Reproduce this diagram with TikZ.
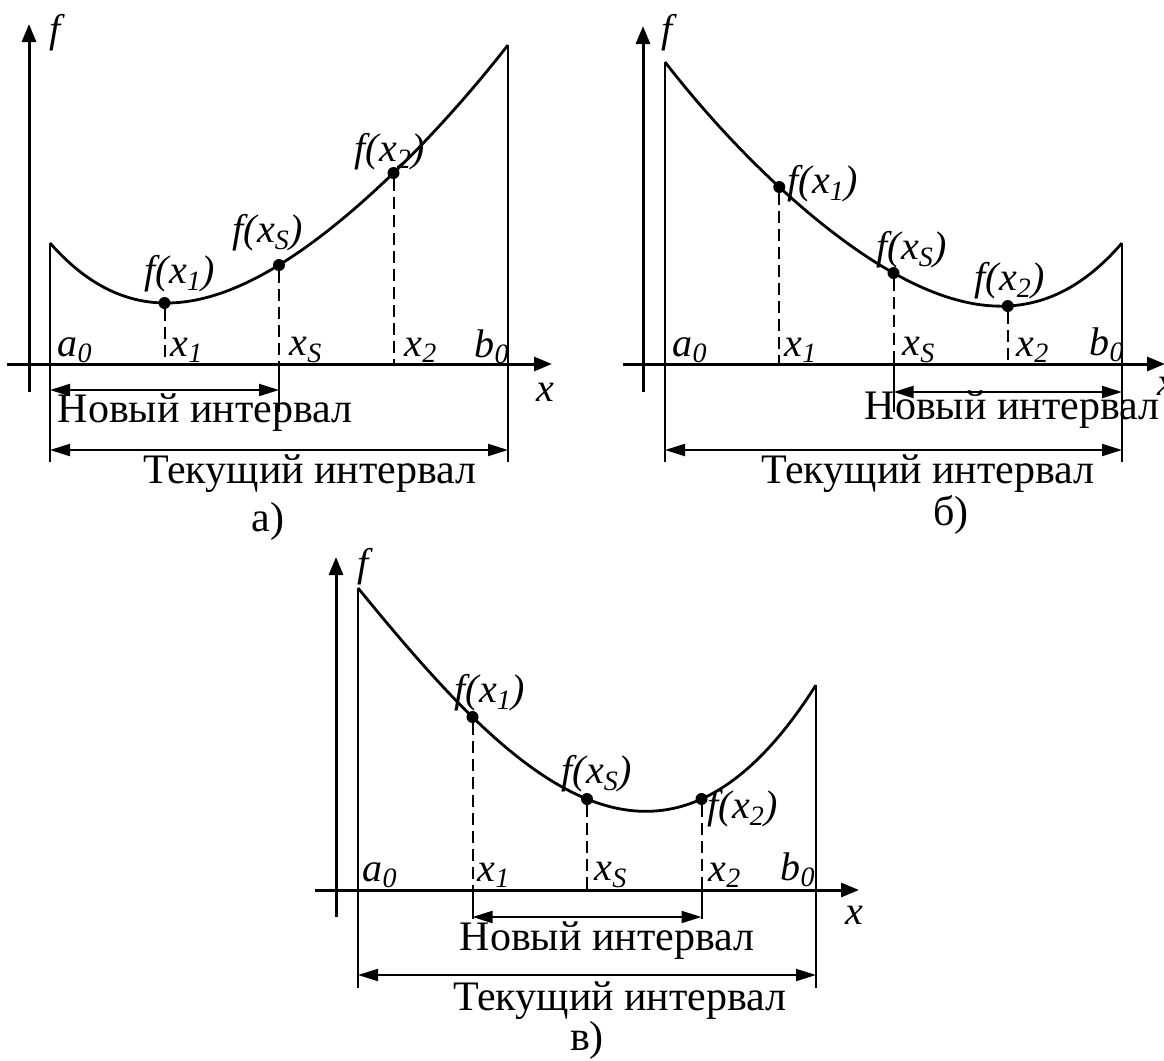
\documentclass[tikz,border=0pt]{standalone}
\usepackage{fontspec}
\setmainfont{Liberation Serif}
\usetikzlibrary{arrows.meta}
\tikzset{
  axisline/.style={line width=1.5pt, -{Triangle[length=9pt,width=7pt]}},
  bound/.style={line width=1pt},
  curvestyle/.style={line width=1.4pt, line join=round},
  guide/.style={line width=1pt, dash pattern=on 6pt off 3pt},
  interval/.style={line width=1pt, {Triangle[length=10pt,width=6pt]}-{Triangle[length=10pt,width=6pt]}},
  lbl/.style={font=\fontsize{20}{24}\selectfont\itshape, inner sep=0pt},
  txt/.style={font=\fontsize{21}{25}\selectfont, inner sep=0pt},
  dot/.style={circle, fill, inner sep=0pt, minimum size=6pt},
}
\begin{document}
\begin{tikzpicture}[x=0.5pt, y=-0.5pt]
\useasboundingbox (0,0) rectangle (1164,1061);

% ================= panel a =================
\coordinate (ya0) at (29,392); \coordinate (ya1) at (29,24);
\coordinate (xa0) at (7,364);  \coordinate (xa1) at (552,364);
\draw[axisline] (ya0) -- (ya1);
\draw[axisline] (xa0) -- (xa1);
\node[lbl] (fa) at (55,33) {f};
\node[lbl] (xa) at (545,392) {x};
\coordinate (Aa) at (50,243); \coordinate (Aab) at (50,462);
\coordinate (Ba) at (508,45);  \coordinate (Bab) at (508,462);
\draw[bound] (Aa) -- (Aab);
\draw[bound] (Ba) -- (Bab);
\draw[curvestyle] plot[domain=0:4, samples=81, smooth]
  ({50+114.5*\x}, {243 + 60*\x - 49*\x*(\x-1) + (22/3)*\x*(\x-1)*(\x-2) - (13/12)*\x*(\x-1)*(\x-2)*(\x-3)});
\node[dot] (pa1) at (164.5,303) {};
\node[dot] (paS) at (279,265) {};
\node[dot] (pa2) at (393.5,173) {};
\coordinate (qa1) at (164.5,364); \coordinate (qaS) at (279,364); \coordinate (qa2) at (393.5,364);
\coordinate (raS) at (279,412);
\draw[guide] (pa1) -- (qa1);
\draw[guide] (paS) -- (qaS);
\draw[guide] (pa2) -- (qa2);
\draw[bound] (qaS) -- (raS);
\node[lbl] (la1) at (180,274) {f(x\textsubscript{1})};
\node[lbl] (laS) at (268,233) {f(x\textsubscript{S})};
\node[lbl] (la2) at (390,152) {f(x\textsubscript{2})};
\node[lbl] (aa0) at (75,350) {a\textsubscript{0}};
\node[lbl] (xa1l) at (187,350) {x\textsubscript{1}};
\node[lbl] (xaSl) at (306,350) {x\textsubscript{S}};
\node[lbl] (xa2l) at (421,350) {x\textsubscript{2}};
\node[lbl] (ba0) at (492,347) {b\textsubscript{0}};
\coordinate (na0) at (50,390); \coordinate (na1) at (279,390);
\draw[interval] (na0) -- (na1);
\node[txt] (nta) at (205,413) {Новый интервал};
\coordinate (ta0) at (50,450); \coordinate (ta1) at (508,450);
\draw[interval] (ta0) -- (ta1);
\node[txt] (tta) at (310,474) {Текущий интервал};
\node[txt] (capa) at (268,521) {а)};

% ================= panel b =================
\coordinate (yb0) at (643,392); \coordinate (yb1) at (643,26);
\coordinate (xb0) at (623,364); \coordinate (xb1) at (1165,364);
\draw[axisline] (yb0) -- (yb1);
\draw[axisline] (xb0) -- (xb1);
\node[lbl] (fb) at (667,33) {f};
\node[lbl] (xb) at (1166,386) {x};
\coordinate (Ab) at (665,62);  \coordinate (Abb) at (665,462);
\coordinate (Bb) at (1122,243); \coordinate (Bbb) at (1122,462);
\draw[bound] (Ab) -- (Abb);
\draw[bound] (Bb) -- (Bbb);
\draw[curvestyle] plot[domain=0:4, samples=81, smooth]
  ({665+114.25*\x}, {62 + 125*\x - 19.5*\x*(\x-1) - (7/3)*\x*(\x-1)*(\x-2) - (29/24)*\x*(\x-1)*(\x-2)*(\x-3)});
\node[dot] (pb1) at (779.25,187) {};
\node[dot] (pbS) at (893.5,273) {};
\node[dot] (pb2) at (1007.75,306) {};
\coordinate (qb1) at (779.25,364); \coordinate (qbS) at (893.5,364); \coordinate (qb2) at (1007.75,364);
\coordinate (rbS) at (893.5,412);
\draw[guide] (pb1) -- (qb1);
\draw[guide] (pbS) -- (qbS);
\draw[guide] (pb2) -- (qb2);
\draw[bound] (qbS) -- (rbS);
\node[lbl] (lb1) at (823,184) {f(x\textsubscript{1})};
\node[lbl] (lbS) at (912,250) {f(x\textsubscript{S})};
\node[lbl] (lb2) at (1010,281) {f(x\textsubscript{2})};
\node[lbl] (ab0) at (690,350) {a\textsubscript{0}};
\node[lbl] (xb1l) at (801,350) {x\textsubscript{1}};
\node[lbl] (xbSl) at (919,350) {x\textsubscript{S}};
\node[lbl] (xb2l) at (1033,350) {x\textsubscript{2}};
\node[lbl] (bb0) at (1107,345) {b\textsubscript{0}};
\coordinate (nb0) at (893.5,392); \coordinate (nb1) at (1122,392);
\draw[interval] (nb0) -- (nb1);
\node[txt] (ntb) at (1012,410) {Новый интервал};
\coordinate (tb0) at (665,450); \coordinate (tb1) at (1122,450);
\draw[interval] (tb0) -- (tb1);
\node[txt] (ttb) at (928,474) {Текущий интервал};
\node[txt] (capb) at (951,515) {б)};

% ================= panel c =================
\coordinate (yc0) at (336,917); \coordinate (yc1) at (336,557);
\coordinate (xc0) at (315,890); \coordinate (xc1) at (859,890);
\draw[axisline] (yc0) -- (yc1);
\draw[axisline] (xc0) -- (xc1);
\node[lbl] (fc) at (363,567) {f};
\node[lbl] (xc) at (854,915) {x};
\coordinate (Ac) at (358,588);  \coordinate (Acb) at (358,988);
\coordinate (Bc) at (816,685);  \coordinate (Bcb) at (816,988);
\draw[bound] (Ac) -- (Acb);
\draw[bound] (Bc) -- (Bcb);
\draw[curvestyle] plot[domain=0:4, samples=81, smooth]
  ({358+114.5*\x}, {588 + 129*\x - 23.5*\x*(\x-1) - (35/6)*\x*(\x-1)*(\x-2) + (1/8)*\x*(\x-1)*(\x-2)*(\x-3)});
\node[dot] (pc1) at (472.5,717) {};
\node[dot] (pcS) at (587,799) {};
\node[dot] (pc2) at (701.5,799) {};
\coordinate (qc1) at (472.5,890); \coordinate (qcS) at (587,890); \coordinate (qc2) at (701.5,890);
\coordinate (rc1) at (472.5,919); \coordinate (rc2) at (701.5,919);
\draw[guide] (pc1) -- (qc1);
\draw[guide] (pcS) -- (qcS);
\draw[guide] (pc2) -- (qc2);
\draw[bound] (qc1) -- (rc1);
\draw[bound] (qc2) -- (rc2);
\node[lbl] (lc1) at (490,693) {f(x\textsubscript{1})};
\node[lbl] (lcS) at (597,774) {f(x\textsubscript{S})};
\node[lbl] (lc2) at (743,809) {f(x\textsubscript{2})};
\node[lbl] (ac0) at (380,875) {a\textsubscript{0}};
\node[lbl] (xc1l) at (494,875) {x\textsubscript{1}};
\node[lbl] (xcSl) at (611,875) {x\textsubscript{S}};
\node[lbl] (xc2l) at (725,875) {x\textsubscript{2}};
\node[lbl] (bc0) at (798,870) {b\textsubscript{0}};
\coordinate (nc0) at (472.5,917); \coordinate (nc1) at (701.5,917);
\draw[interval] (nc0) -- (nc1);
\node[txt] (ntc) at (607,941) {Новый интервал};
\coordinate (tc0) at (358,975); \coordinate (tc1) at (816,975);
\draw[interval] (tc0) -- (tc1);
\node[txt] (ttc) at (620,1001) {Текущий интервал};
\node[txt] (capc) at (587,1040) {в)};
\end{tikzpicture}
\end{document}
